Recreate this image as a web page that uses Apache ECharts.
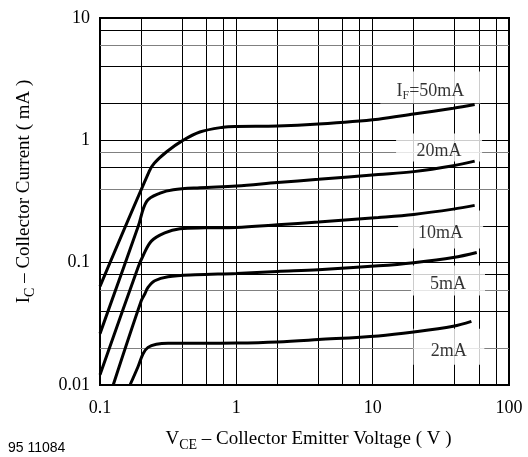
<!DOCTYPE html>
<html><head><meta charset="utf-8">
<script src="https://cdn.jsdelivr.net/npm/echarts@6/dist/echarts.min.js"></script>
<style>html,body{margin:0;padding:0;background:#fff}#c{width:528px;height:457px}</style>
</head><body><div id="c"></div>
<script>
// Axis ticks
const xTicks = [0.1, 1, 10, 100];
const xTickLabels = ['0.1', '1', '10', '100'];
const yTicks = [0.01, 0.1, 1, 10];
const yTickLabels = ['0.01', '0.1', '1', '10'];
// Grid lines (1,2,4,6,8 per decade)
const xGrid = [0.2, 0.4, 0.6, 0.8, 1, 2, 4, 6, 8, 10, 20, 40, 60, 80];
const yGrid = [0.02, 0.04, 0.06, 0.08, 0.1, 0.2, 0.4, 0.6, 0.8, 1, 2, 4, 6, 8];
const yGridGray = [0.02, 0.06, 0.4, 0.8, 6];
// Curves: [V_CE (V), I_C (mA)]
const c50 = [[0.1,0.064],[0.23,0.56],[0.25,0.65],[0.31,0.81],[0.40,0.99],[0.54,1.17],[0.80,1.28],[1.0,1.30],[2.0,1.31],[4.0,1.36],[11,1.49],[20,1.64],[39,1.83],[56,1.96]];
const c20 = [[0.1,0.0263],[0.191,0.199],[0.22,0.317],[0.276,0.37],[0.345,0.395],[0.54,0.41],[1.0,0.423],[2.0,0.452],[4.0,0.48],[11,0.525],[20,0.555],[39,0.62],[56,0.676]];
const c10 = [[0.1,0.0121],[0.19,0.0913],[0.207,0.114],[0.238,0.150],[0.2985,0.175],[0.386,0.189],[0.59,0.1925],[1.0,0.194],[2.0,0.204],[4.0,0.215],[11,0.234],[20,0.248],[39,0.274],[56,0.294]];
const c5 = [[0.125,0.01],[0.201,0.049],[0.213,0.0554],[0.225,0.0628],[0.252,0.0712],[0.3155,0.0767],[0.50,0.0796],[1.0,0.0816],[2.0,0.0847],[4.0,0.0875],[11,0.0942],[20,0.100],[39,0.110],[58,0.121]];
const c2 = [[0.166,0.01],[0.19,0.0141],[0.207,0.018],[0.225,0.0203],[0.259,0.0215],[0.3155,0.0219],[0.54,0.0219],[1.0,0.022],[2.0,0.0225],[4.0,0.0235],[11,0.0252],[20,0.0271],[39,0.0302],[53,0.0331]];
const curves = [c50, c20, c10, c5, c2];
const curveNames = ['IF=50mA', '20mA', '10mA', '5mA', '2mA'];
// Curve labels and their anchor points [V, I]
const labelTexts = ['{n|I}{s|F}{n|=50mA}', '{n|20mA}', '{n|10mA}', '{n|5mA}', '{n|2mA}'];
const labelAnchors = [[26.5, 2.70], [30.7, 0.873], [31.5, 0.187], [35.7, 0.0716], [36.2, 0.0205]];
const labelBoxes = [[100, 32], [86, 28], [85, 38], [74, 30], [71, 36]];

const SERIF = '"Liberation Serif", "Times New Roman", serif';
const FS = 18;
const LH = 20;
const SHIFT = 4;
function fmt(ticks, labels) {
  return v => {
    const i = ticks.findIndex(t => Math.abs(Math.log10(t) - Math.log10(v)) < 1e-6);
    return i >= 0 ? labels[i] : '';
  };
}
const rich = {
  n: { fontFamily: SERIF, fontSize: FS, color: '#000', lineHeight: LH },
  s: { fontFamily: SERIF, fontSize: 12, color: '#000', lineHeight: 12, padding: [9, 0, 0, 0] }
};
const richTitle = {
  n: { fontFamily: SERIF, fontSize: 19, color: '#000' },
  s: { fontFamily: SERIF, fontSize: 14, color: '#000', padding: [11, 0, 0, 0] }
};

const chart = echarts.init(document.getElementById('c'), null, { renderer: 'canvas' });
const gridLineData = xGrid.map(v => ({ xAxis: v, lineStyle: { color: '#000', width: 1, type: 'solid' } }))
  .concat(yGrid.map(v => ({ yAxis: v, lineStyle: { color: yGridGray.includes(v) ? '#808080' : '#000', width: 1, type: 'solid' } })));

const series = [{
  type: 'line', data: [], z: 1, silent: true,
  markLine: { z: 1, silent: true, symbol: ['none', 'none'], label: { show: false }, animation: false, data: gridLineData }
}, {
  type: 'scatter', z: 2, silent: true, symbolSize: 0,
  data: labelAnchors.map((a, i) => {
    const pv = (labelBoxes[i][1] - LH) / 2;
    return {
      value: a,
      label: {
        show: true, position: 'inside', formatter: labelTexts[i],
        backgroundColor: '#fff', width: labelBoxes[i][0],
        padding: [pv + SHIFT, 0, pv - SHIFT, 0],
        align: 'center', verticalAlign: 'middle', rich: rich
      }
    };
  })
}];
curves.forEach((c, i) => series.push({
  name: curveNames[i], type: 'line', data: c, z: 3, smooth: 0.35, symbol: 'none', silent: true,
  lineStyle: { color: '#000', width: 3 }
}));

chart.setOption({
  animation: false,
  backgroundColor: '#fff',
  grid: { left: 100, top: 18, width: 409, height: 370.5, show: true, borderColor: '#000', borderWidth: 2, backgroundColor: 'transparent' },
  xAxis: {
    type: 'log', logBase: 10, min: 0.1, max: 100,
    axisLine: { show: false }, axisTick: { show: false }, splitLine: { show: false },
    axisLabel: { formatter: fmt(xTicks, xTickLabels), fontFamily: SERIF, fontSize: FS, color: '#000', margin: 14 },
    name: '{n|V}{s|CE}{n| – Collector Emitter Voltage ( V )}', nameLocation: 'middle', nameGap: 42,
    nameTextStyle: { rich: richTitle, padding: [0, 0, 0, 8] }
  },
  yAxis: {
    type: 'log', logBase: 10, min: 0.01, max: 10,
    axisLine: { show: false }, axisTick: { show: false }, splitLine: { show: false },
    axisLabel: { formatter: fmt(yTicks, yTickLabels), fontFamily: SERIF, fontSize: FS, color: '#000', margin: 10 },
    name: '{n|I}{s|C}{n| – Collector Current ( mA )}', nameLocation: 'middle', nameGap: 63, nameRotate: 90,
    nameTextStyle: { rich: richTitle, padding: [0, 0, 0, 20] }
  },
  graphic: [{ type: 'text', left: 8, top: 441, style: { text: '95 11084', fontFamily: '"Liberation Sans", Arial, sans-serif', fontSize: 14, fill: '#000' } }],
  series: series
});
</script></body></html>
